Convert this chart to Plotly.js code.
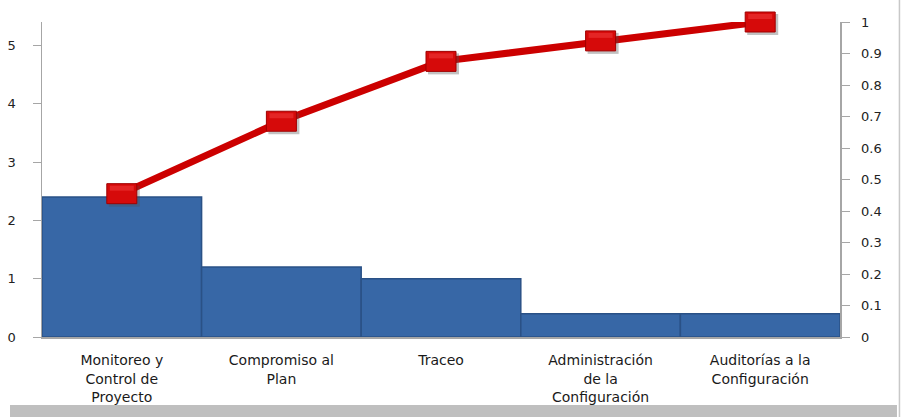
<!DOCTYPE html>
<html>
<head>
<meta charset="utf-8">
<script src="https://cdn.plot.ly/plotly-3.0.1.min.js"></script>
<style>html,body{margin:0;padding:0;background:#fff;}#chart{width:902px;height:417px;}</style>
</head>
<body>
<div id="chart"></div>
<script>
const categories = ["Monitoreo y<br>Control de<br>Proyecto", "Compromiso al<br>Plan", "Traceo", "Administración<br>de la<br>Configuración", "Auditorías a la<br>Configuración"];
const counts = [2.4, 1.2, 1.0, 0.4, 0.4];
const cumulative = [0.455, 0.685, 0.875, 0.94, 1.0];
const leftTicks = [0, 1, 2, 3, 4, 5];
const rightTicks = [0, 0.1, 0.2, 0.3, 0.4, 0.5, 0.6, 0.7, 0.8, 0.9, 1];
const rightTickText = ["0", "0.1", "0.2", "0.3", "0.4", "0.5", "0.6", "0.7", "0.8", "0.9", "1"];

const idx = categories.map((c, i) => i);
const y2Range = [0, 1];
// y2 spans the full plot height, so paper coordinate = value on y2
const toPaper = v => (v - y2Range[0]) / (y2Range[1] - y2Range[0]);

const bars = {
  type: 'bar', x: idx, y: counts, yaxis: 'y',
  marker: {color: '#3767A6', line: {color: '#2A5186', width: 1.5}},
  hoverinfo: 'skip'
};
const line = {
  type: 'scatter', mode: 'lines', x: idx, y: cumulative, yaxis: 'y2',
  line: {color: '#CC0000', width: 7}, cliponaxis: false, hoverinfo: 'skip'
};

const shapes = [];
cumulative.forEach((v, i) => {
  const base = {type: 'rect', xref: 'x', yref: 'paper', layer: 'above',
    xsizemode: 'pixel', ysizemode: 'pixel', xanchor: idx[i], yanchor: toPaper(v)};
  shapes.push(Object.assign({}, base, {x0: -13, x1: 18, y0: -13, y1: 8, fillcolor: 'rgba(80,80,80,0.35)', line: {width: 0}}));
  shapes.push(Object.assign({}, base, {x0: -15, x1: 15, y0: -10, y1: 10, fillcolor: '#D60A0A', line: {color: '#A00000', width: 1}}));
  shapes.push(Object.assign({}, base, {x0: -12, x1: 12, y0: 3, y1: 8, fillcolor: 'rgba(255,90,90,0.35)', line: {width: 0}}));
});
shapes.push({type: 'rect', xref: 'paper', yref: 'paper', layer: 'below',
  x0: -0.0401, x1: 1.0714, y0: -0.254, y1: -0.2159, fillcolor: '#BFBFBF', line: {width: 0}});
shapes.push({type: 'line', xref: 'paper', yref: 'paper', layer: 'below',
  x0: 1.0745, x1: 1.0745, y0: 1.07, y1: -0.254, line: {color: '#C8C8C8', width: 1.5}});

const layout = {
  width: 902, height: 417,
  margin: {l: 42, r: 62, t: 22, b: 80, pad: 0},
  paper_bgcolor: '#FFFFFF', plot_bgcolor: '#FFFFFF',
  showlegend: false, bargap: 0,
  font: {family: 'DejaVu Sans, Verdana, sans-serif', size: 13, color: '#222'},
  xaxis: {
    type: 'linear', range: [-0.5, 4.5], tickmode: 'array', tickvals: idx, ticktext: categories,
    showgrid: false, zeroline: false, showline: true, linecolor: '#A6A6A6', linewidth: 1.5,
    ticks: '', ticklabelstandoff: 10,
    tickfont: {family: 'DejaVu Sans, sans-serif', size: 14, color: '#1a1a1a'}, fixedrange: true
  },
  yaxis: {
    range: [0, 5.4], tickmode: 'array', tickvals: leftTicks, showgrid: false, zeroline: false,
    showline: true, linecolor: '#A6A6A6', linewidth: 1.5, ticks: 'outside', ticklen: 8, tickcolor: '#A6A6A6',
    tickfont: {size: 13, color: '#222'}, ticklabelstandoff: 14
  },
  yaxis2: {
    range: y2Range, overlaying: 'y', side: 'right', tickmode: 'array', tickvals: rightTicks, ticktext: rightTickText,
    showgrid: false, zeroline: false, showline: true, linecolor: '#A6A6A6', linewidth: 1.5,
    ticks: 'outside', ticklen: 8, tickcolor: '#A6A6A6', tickfont: {size: 13, color: '#222'}, ticklabelstandoff: 9
  },
  shapes: shapes
};

Plotly.newPlot('chart', [bars, line], layout, {displayModeBar: false, staticPlot: true});
</script>
</body>
</html>
